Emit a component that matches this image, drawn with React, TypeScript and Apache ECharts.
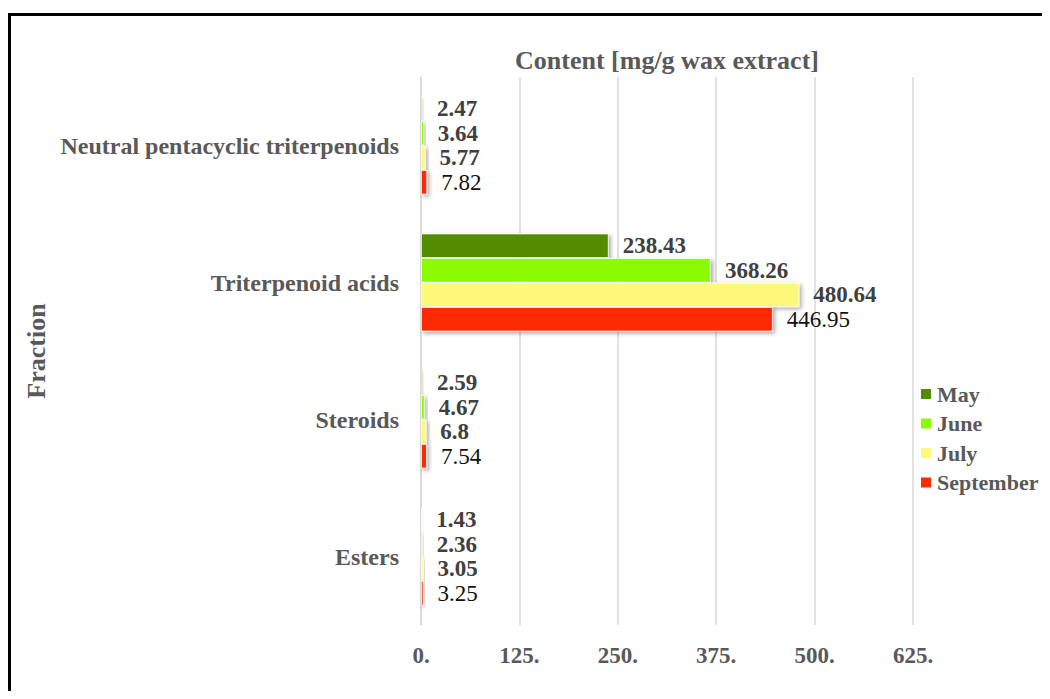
import React, { useEffect, useRef } from "react";
import * as echarts from "echarts";

const categories = ["Neutral pentacyclic triterpenoids", "Triterpenoid acids", "Steroids", "Esters"];
const months = ["May", "June", "July", "September"];
const mayValues = [2.47, 238.43, 2.59, 1.43];
const juneValues = [3.64, 368.26, 4.67, 2.36];
const julyValues = [5.77, 480.64, 6.8, 3.05];
const septemberValues = [7.82, 446.95, 7.54, 3.25];
const xTicks = [0, 125, 250, 375, 500, 625];

const colors = ["#528C00", "#8CFA00", "#FFF97A", "#FF2A00"];
const FONT = "'Liberation Serif', 'Times New Roman', serif";

export default function App() {
  const ref = useRef<HTMLDivElement>(null);
  useEffect(() => {
    if (!ref.current) return;
    const chart = echarts.init(ref.current, undefined, { renderer: "svg" });
    const seriesData = [mayValues, juneValues, julyValues, septemberValues];
    chart.setOption({
      animation: false,
      title: {
        text: "Content [mg/g wax extract]",
        left: 659,
        top: 39,
        padding: 0,
        textAlign: "center",
        textStyle: { fontFamily: FONT, fontSize: 26, fontWeight: "bold", color: "#595959" },
      },
      legend: {
        orient: "vertical",
        left: 911,
        top: 375,
        padding: 0,
        itemWidth: 12,
        itemHeight: 12,
        itemGap: 7.5,
        icon: "rect",
        data: months,
        textStyle: { fontFamily: FONT, fontSize: 22, fontWeight: "bold", color: "#595959", lineHeight: 22 },
      },
      grid: { left: 413, top: 69, width: 492, height: 548, containLabel: false },
      xAxis: {
        type: "value",
        min: xTicks[0],
        max: xTicks[xTicks.length - 1],
        interval: 125,
        axisLine: { show: false },
        axisTick: { show: false },
        splitLine: { show: true, lineStyle: { color: "#D9D9D9", width: 1.5 } },
        axisLabel: {
          margin: 19,
          formatter: (v: number) => v + ".",
          fontFamily: FONT,
          fontSize: 23,
          fontWeight: "bold",
          color: "#595959",
        },
      },
      yAxis: {
        type: "category",
        data: categories,
        inverse: true,
        name: "Fraction",
        nameLocation: "middle",
        nameGap: 372,
        nameRotate: 90,
        nameTextStyle: { fontFamily: FONT, fontSize: 26, fontWeight: "bold", color: "#595959" },
        axisLine: { show: true, lineStyle: { color: "#D9D9D9", width: 1.5 } },
        axisTick: { show: false },
        axisLabel: {
          margin: 22,
          fontFamily: FONT,
          fontSize: 24,
          fontWeight: "bold",
          color: "#595959",
        },
      },
      series: months.map((m, i) => ({
        name: m,
        type: "bar",
        data: seriesData[i],
        barWidth: 24.5,
        barGap: "0%",
        itemStyle: {
          color: colors[i],
          borderColor: "#ffffff",
          borderWidth: 0.8,
          shadowColor: "rgba(0,0,0,0.35)",
          shadowBlur: 4,
          shadowOffsetX: 2,
          shadowOffsetY: 2,
        },
        label: {
          show: true,
          position: "right",
          distance: 14,
          fontFamily: FONT,
          fontSize: 23,
          fontWeight: i === 3 ? "normal" : "bold",
          color: i === 3 ? "#111111" : "#404040",
        },
      })),
    });
    return () => chart.dispose();
  }, []);
  return (
    <div style={{ position: "relative", width: 1042, height: 683, overflow: "hidden" }}>
      <div
        style={{
          position: "absolute",
          left: 0,
          top: 5,
          width: 1100,
          height: 720,
          borderLeft: "3px solid #000",
          borderTop: "3px solid #000",
          boxSizing: "border-box",
        }}
      />
      <div ref={ref} style={{ position: "absolute", left: 0, top: 0, width: 1200, height: 683 }} />
    </div>
  );
}
